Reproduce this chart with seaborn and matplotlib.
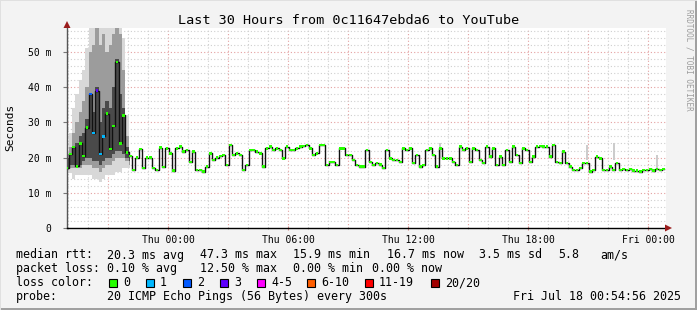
import numpy as np
import pandas as pd
import matplotlib
matplotlib.use("Agg")
import matplotlib.pyplot as plt
from matplotlib.patches import Rectangle, Polygon
import seaborn as sns

W, H = 697, 310

# ---------------- data ----------------
# hours relative to Thu 00:00, 10-minute samples
t_start = -5.05
t_step = 1 / 6

median_ms = [
    17, 21, 23, 17.5, 24, 20.5, 28.5, 38, 27, 39, 21, 26, 32.5, 22.5, 29, 47.2, 24, 32, 21.5, 20.5,
    16.5, 20, 22.5, 17, 20, 20, 17, 16.5, 22.8, 17.3,
    22.6, 21.2, 16.3, 22.6, 23.1, 21.7, 22.2, 18.8, 21.7, 16.5, 16.5, 16.0, 17.4, 21.2, 19.3, 20.0,
    20.4, 20.7, 17.9, 23.6, 20.7, 21.2, 20.7, 16.5, 17.9, 22.2, 22.2, 21.7, 21.2, 17.4, 22.6, 23.1, 22.2,
    22.6, 22.2, 19.8, 23.1, 22.2, 22.2, 22.6, 23.1, 23.3, 23.6, 22.6, 20.7, 21.2, 23.6, 23.6, 17.9,
    18.8, 18.8, 17.9, 22.6, 22.6, 20.7, 20.7, 19.3, 17.9, 17.4, 17.4, 22.2, 18.8, 17.9, 18.4, 18.0,
    17.0, 22.2, 19.8, 19.3, 19.3, 18.8, 22.6, 22.2, 22.6, 18.4, 20.7, 17.4, 17.9, 22.2, 22.6, 20.7,
    17.4, 22.6, 19.8, 19.8, 19.8, 18.8, 17.9, 23.1, 22.2, 22.6, 18.8, 22.6, 22.2, 19.3, 18.4,
    23.1, 20.3, 22.6, 17.9, 20.3, 17.9, 22.2, 18.8, 23.1, 20.7, 18.4, 22.6, 22.2, 18.8, 20.3, 23.1,
    23.3, 23.1, 23.1, 20.3, 23.6, 18.8, 18.4, 21.7, 18.4, 17.4, 16.5, 16.5,
    17.0, 18.4, 18.4, 16.0, 16.5, 20.3, 19.8, 16.5, 16.5, 17.4, 16.5, 18.4, 16.5, 16.7, 16.5, 16.7,
    16.3, 16.3, 16.0, 16.5, 16.5, 16.7, 16.3, 16.7, 16.5, 16.7,
]

# samples with packet loss (index -> loss class)
loss_idx = [7, 8, 9, 10, 11]
loss_cls = ["2", "1", "3", "1", "1"]

# smoke (ping spread) during the early burst, first 20 samples, three density layers
smoke_out_lo = [15.5, 15.5, 14, 15, 15, 15, 15, 15, 14, 14, 13, 14, 15, 15, 15, 16, 16, 17, 17, 17]
smoke_out_hi = [22, 27, 34, 38, 42, 45, 51, 57, 57, 57, 57, 57, 57, 57, 57, 57, 57, 54, 32, 22]
smoke_mid_lo = [16.5, 17, 17, 17, 17, 18, 18, 18, 17, 17, 16, 17, 18, 18, 19, 20, 20, 20, 19, 18]
smoke_mid_hi = [21, 23, 27, 30, 33, 36, 40, 50, 52, 57, 52, 55, 50, 52, 55, 57, 55, 45, 26, 21]
smoke_in_lo = [17, 18, 18, 17.5, 18, 19, 20, 20, 19, 19, 18, 19, 20, 20, 21, 22, 22, 21, 20, 19]
smoke_in_hi = [20, 21, 23, 24, 26, 27, 31, 38, 33, 40, 30, 34, 36, 34, 40, 48, 38, 34, 23, 21]

# isolated light smoke spikes later on
spike_idx = [112, 156, 164, 177]
spike_lo = [20.0, 19.3, 19.3, 17.0]
spike_hi = [24.0, 23.6, 24.0, 20.7]

x_tick_labels = ["Thu 00:00", "Thu 06:00", "Thu 12:00", "Thu 18:00", "Fri 00:00"]
y_tick_labels = ["0", "10 m", "20 m", "30 m", "40 m", "50 m"]

loss_legend = ["0", "1", "2", "3", "4-5", "6-10", "11-19", "20/20"]
loss_colors = ["#26ff00", "#00b8ff", "#0059ff", "#5e00ff", "#ff00ff", "#ff5e00", "#ff0000", "#a10000"]

# ---------------- build frame ----------------
n = len(median_ms)
hours = t_start + np.arange(n) * t_step
loss = ["0"] * n
for i, c in zip(loss_idx, loss_cls):
    loss[i] = c
df = pd.DataFrame({"hours": hours, "median": median_ms, "loss": loss})

MONO = "DejaVu Sans Mono"
plt.rcParams["font.family"] = MONO

fig = plt.figure(figsize=(W / 100, H / 100), dpi=100, facecolor="#f3f3f3")
L, R, T, B = 67, 666, 28, 228
ax = fig.add_axes([L / W, 1 - B / H, (R - L) / W, (B - T) / H])
ax.set_facecolor("white")

x0 = t_start
x1 = x0 + (R - L) / 20.0
ymax = 56.8
ax.set_xlim(x0, x1)
ax.set_ylim(0, ymax)

# grid
for h in range(-5, 25):
    major = (h % 3 == 0)
    ax.axvline(h, color="#e4a0a0" if major else "#cfcfcf", lw=0.8,
               ls=(0, (1, 2)), zorder=0.5)
for v in range(2, 57, 2):
    major = (v % 10 == 0)
    ax.axhline(v, color="#e4a0a0" if major else "#cfcfcf", lw=0.8,
               ls=(0, (1, 2)), zorder=0.5)

# smoke
ns = len(smoke_out_lo)
ax.fill_between(hours[:ns], smoke_out_lo, smoke_out_hi, step="mid", color="#d8d8d8", lw=0, zorder=1)
ax.fill_between(hours[:ns], smoke_mid_lo, smoke_mid_hi, step="mid", color="#9c9c9c", lw=0, zorder=1.1)
ax.fill_between(hours[:ns], smoke_in_lo, smoke_in_hi, step="mid", color="#4a4a4a", lw=0, zorder=1.2)
for i, lo, hi in zip(spike_idx, spike_lo, spike_hi):
    ax.fill_between([hours[i] - t_step / 4, hours[i] + t_step / 4], [lo, lo], [hi, hi],
                    color="#cccccc", lw=0, zorder=1)

# median line
sns.lineplot(data=df, x="hours", y="median", color="#111111", lw=1.0,
             drawstyle="steps-mid", estimator=None, sort=False, ax=ax, zorder=2)
pal = dict(zip(loss_legend, loss_colors))
sns.scatterplot(data=df, x="hours", y="median", hue="loss", palette=pal,
                marker="s", s=3.2, linewidth=0, legend=False, ax=ax, zorder=3)

# axes styling
ax.set_xlabel("")
ax.set_ylabel("")
for s in ["top", "right"]:
    ax.spines[s].set_visible(False)
ax.spines["left"].set_color("#555555")
ax.spines["left"].set_linewidth(1.0)
ax.spines["bottom"].set_color("#000000")
ax.spines["bottom"].set_linewidth(1.0)

ax.set_xticks([0, 6, 12, 18, 24])
ax.set_xticklabels(x_tick_labels)
ax.set_yticks([0, 10, 20, 30, 40, 50])
ax.set_yticklabels(y_tick_labels)
ax.set_xticks(list(range(-5, 25)), minor=True)
ax.tick_params(axis="x", which="major", length=2.5, width=0.8, color="#d08080",
               direction="inout", labelsize=7, pad=3.5, labelcolor="#000000")
ax.tick_params(axis="x", which="minor", length=2, width=0.8, color="#bbbbbb", direction="inout")
ax.tick_params(axis="y", which="major", length=3, width=0.8, color="#777777",
               direction="out", labelsize=7, pad=8, labelcolor="#000000")

# arrows
fig.add_artist(Polygon([[63.5 / W, 1 - 28 / H], [70.5 / W, 1 - 28 / H], [67 / W, 1 - 21 / H]],
                       closed=True, transform=fig.transFigure, color="#9a1c1c", lw=0))
fig.add_artist(Polygon([[665 / W, 1 - 224.5 / H], [665 / W, 1 - 231.5 / H], [672 / W, 1 - 228 / H]],
                       closed=True, transform=fig.transFigure, color="#9a1c1c", lw=0))

# frame border
fig.add_artist(Rectangle((0, 0), 1, 2 / H, transform=fig.transFigure, color="#a0a0a0", lw=0))
fig.add_artist(Rectangle((1 - 2 / W, 0), 2 / W, 1, transform=fig.transFigure, color="#a0a0a0", lw=0))
fig.add_artist(Rectangle((0, 1 - 1 / H), 1, 1 / H, transform=fig.transFigure, color="#e0e0e0", lw=0))
fig.add_artist(Rectangle((0, 0), 1 / W, 1, transform=fig.transFigure, color="#e0e0e0", lw=0))

def ftext(x, y, s, **kw):
    fig.text(x / W, 1 - y / H, s, **kw)

ftext(349, 24, "Last 30 Hours from 0c11647ebda6 to YouTube", ha="center", va="baseline",
      fontsize=9.7, color="#000000")
ftext(10.5, 127, "Seconds", rotation=90, ha="center", va="center", fontsize=8, color="#000000")
ftext(689, 60, "RRDTOOL / TOBI OETIKER", rotation=270, ha="center", va="center",
      fontsize=5.5, color="#9c9c9c")

fs = 8.4
rows = [258.5, 272, 286, 300]
row1 = [(16, "median rtt:"), (107, "20.3 ms avg"), (200, "47.3 ms max"), (293, "15.9 ms min"),
        (387, "16.7 ms now"), (479, "3.5 ms sd"), (558, "5.8"), (600, "am/s")]
row2 = [(16, "packet loss:"), (107, "0.10 % avg"), (200, "12.50 % max"), (293, "0.00 % min"),
        (372, "0.00 % now")]
for x, s in row1:
    ftext(x, rows[0], s, ha="left", va="baseline", fontsize=fs)
for x, s in row2:
    ftext(x, rows[1], s, ha="left", va="baseline", fontsize=fs)
ftext(16, rows[2], "loss color:", ha="left", va="baseline", fontsize=fs)
box_x = [109, 146, 183, 220, 257, 307, 365, 431]
for bx, lab, col in zip(box_x, loss_legend, loss_colors):
    fig.add_artist(Rectangle((bx / W, 1 - 287 / H), 8 / W, 8 / H, transform=fig.transFigure,
                             facecolor=col, edgecolor="#000000", lw=0.8))
    ftext(bx + 14, rows[2], lab, ha="left", va="baseline", fontsize=fs)
ftext(16, rows[3], "probe:", ha="left", va="baseline", fontsize=fs)
ftext(107, rows[3], "20 ICMP Echo Pings (56 Bytes) every 300s", ha="left", va="baseline", fontsize=fs)
ftext(681, rows[3], "Fri Jul 18 00:54:56 2025", ha="right", va="baseline", fontsize=fs)

fig.savefig("out.png", dpi=100, facecolor=fig.get_facecolor())
